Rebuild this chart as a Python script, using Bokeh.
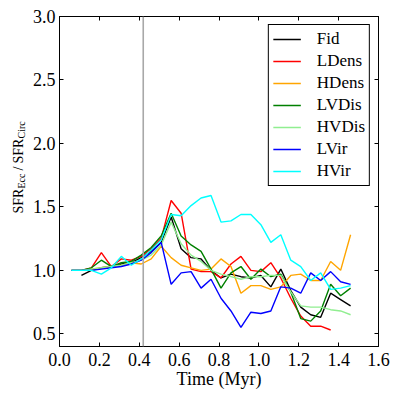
import math
from bokeh.plotting import figure
from bokeh.layouts import row
from bokeh.models import LinearAxis, Span, FixedTicker, PrintfTickFormatter, Range1d
from bokeh.core.properties import value
from bokeh.embed import file_html
from bokeh.resources import INLINE

nan = float("nan")

# ---------------- data ----------------
time_myr = [0.06, 0.11, 0.16, 0.21, 0.26, 0.31, 0.36, 0.41, 0.46, 0.51,
            0.56, 0.61, 0.66, 0.71, 0.76, 0.81, 0.86, 0.91, 0.96, 1.01,
            1.06, 1.11, 1.16, 1.21, 1.26, 1.31, 1.36, 1.41, 1.46]

fid = [nan, 0.96, 1.00, 1.02, 1.03, 1.05, 1.06, 1.10, 1.15, 1.22,
       1.42, 1.17, 1.10, 1.09, 1.00, 0.94, 0.97, 0.95, 0.94, 0.96,
       0.87, 1.01, 0.84, 0.71, 0.65, 0.63, 0.82, 0.77, 0.72]
ldens = [1.00, 1.00, 1.02, 1.14, 1.03, 1.09, 1.08, 1.11, 1.17, 1.25,
         1.55, 1.45, 1.01, 0.99, 0.99, 0.94, 1.05, 1.11, 1.00, 0.99,
         1.06, 0.94, 0.78, 0.64, 0.56, 0.56, 0.53, nan, nan]
hdens = [1.00, 1.00, 1.01, 1.02, 1.03, 1.04, 1.06, 1.05, 1.09, 1.19,
         1.10, 1.04, 1.02, 1.00, 1.01, 1.09, 1.03, 0.82, 0.88, 0.88,
         0.85, 0.87, 0.96, 0.97, 0.92, 0.92, 1.07, 1.00, 1.28]
lvdis = [1.00, 1.00, 1.02, 1.08, 1.03, 1.06, 1.07, 1.12, 1.18, 1.27,
         1.45, 1.27, 1.20, 1.15, 1.01, 0.86, 0.98, 1.03, 0.93, 1.01,
         0.95, 0.97, 0.83, 0.62, 0.60, 0.68, 0.89, 0.80, 0.86]
hvdis = [1.00, 1.00, 1.01, 1.02, 1.03, 1.04, 1.06, 1.08, 1.12, 1.20,
         1.38, 1.21, 1.12, 1.07, 1.00, 0.97, 0.95, 0.93, 0.95, 0.95,
         0.96, 0.96, 0.83, 0.72, 0.71, 0.71, 0.69, 0.68, 0.65]
lvir = [1.00, 1.00, 1.00, 1.01, 1.02, 1.03, 1.05, 1.08, 1.14, 1.22,
        0.89, 0.98, 0.99, 0.86, 0.93, 0.78, 0.68, 0.55, 0.67, 0.66,
        0.68, 0.87, 0.86, 0.82, 0.98, 0.92, 0.99, 0.91, 0.89]
hvir = [1.00, 1.00, 1.00, 0.97, 1.02, 1.11, 1.04, 1.09, 1.16, 1.24,
        1.44, 1.43, 1.51, 1.57, 1.59, 1.38, 1.39, 1.44, 1.44, 1.36,
        1.22, 1.28, 1.08, 1.03, 0.92, 0.98, 0.85, 0.86, 0.88]

series_names = ["Fid", "LDens", "HDens", "LVDis", "HVDis", "LVir", "HVir"]
series_values = [fid, ldens, hdens, lvdis, hvdis, lvir, hvir]
series_colors = ["#000000", "#ff0000", "#ffa500", "#008000", "#90ee90", "#0000ff", "#00ffff"]

x_ticks = [0.0, 0.2, 0.4, 0.6, 0.8, 1.0, 1.2, 1.4, 1.6]
y_ticks = [0.5, 1.0, 1.5, 2.0, 2.5, 3.0]
t_marker = 0.42

x_title = "Time (Myr)"
y_title_text = ["SFR", "Ecc", "/", "SFR", "Circ"]
y_title_is_sub = [False, True, False, False, True]

# ---------------- layout ----------------
FONT = "Liberation Serif"
FRAME_W, FRAME_H = 319, 330
TITLE_W = 26
BL, BT = 59, 16
X0, X1 = 0.0, 1.6
Y0, Y1 = 0.4, 3.0

p = figure(x_range=(X0, X1), y_range=(Y0, Y1),
           frame_width=FRAME_W, frame_height=FRAME_H,
           x_axis_location=None, y_axis_location=None,
           min_border_left=BL - TITLE_W, min_border_right=12, min_border_top=BT, min_border_bottom=40,
           output_backend="svg", toolbar_location=None)
p.xgrid.visible = False
p.ygrid.visible = False
p.outline_line_color = "black"
p.outline_line_width = 1
p.background_fill_color = "white"
p.border_fill_color = "white"

ax_bottom = LinearAxis(ticker=FixedTicker(ticks=x_ticks))
ax_top = LinearAxis(ticker=FixedTicker(ticks=x_ticks))
ax_left = LinearAxis(ticker=FixedTicker(ticks=y_ticks))
ax_right = LinearAxis(ticker=FixedTicker(ticks=y_ticks))

for ax in (ax_bottom, ax_top, ax_left, ax_right):
    ax.major_tick_in = 4
    ax.major_tick_out = 0
    ax.minor_tick_in = 0
    ax.minor_tick_out = 0
    ax.axis_line_color = "black"
    ax.major_tick_line_color = "black"
    ax.major_label_text_font = FONT
    ax.major_label_text_font_size = "18px"
    ax.major_label_text_color = "black"
    ax.formatter = PrintfTickFormatter(format="%.1f")

ax_bottom.major_label_standoff = 6
ax_left.major_label_standoff = 4
ax_bottom.axis_label = x_title
ax_bottom.axis_label_text_font = FONT
ax_bottom.axis_label_text_font_size = "18px"
ax_bottom.axis_label_text_font_style = "normal"
ax_bottom.axis_label_text_color = "black"
ax_bottom.axis_label_standoff = 0

# top and right axes: ticks only, no labels painted
for ax in (ax_top, ax_right):
    ax.major_label_text_color = None
    ax.major_label_text_font_size = "1px"
    ax.major_label_standoff = 0

p.add_layout(ax_bottom, "below")
p.add_layout(ax_left, "left")
p.add_layout(ax_top, "above")
p.add_layout(ax_right, "right")

p.add_layout(Span(location=t_marker, dimension="height", line_color="#a8a8a8", line_width=1.6))

for name, vals, col in zip(series_names, series_values, series_colors):
    p.line(time_myr, vals, line_color=col, line_width=1.4, legend_label=name)

lg = p.legend[0]
lg.location = "top_right"
lg.margin = 8
lg.padding = 4
lg.spacing = 2
lg.label_height = 20
lg.glyph_height = 20
lg.glyph_width = 28
lg.label_standoff = 16
lg.label_text_font = FONT
lg.label_text_font_size = "17px"
lg.label_text_color = "black"
lg.border_line_color = "black"
lg.border_line_width = 1
lg.border_line_alpha = 1.0
lg.background_fill_alpha = 1.0

# ---------------- rotated y title with subscripts, in a narrow side panel ----------------
# the panel shares the main plot's vertical scale (same frame height and top border)
t = figure(frame_width=TITLE_W, frame_height=FRAME_H, title=None,
           x_range=Range1d(0, TITLE_W), y_range=p.y_range,
           x_axis_location=None, y_axis_location=None,
           min_border_left=0, min_border_right=0, min_border_top=BT, min_border_bottom=0,
           output_backend="svg", toolbar_location=None)
t.xgrid.visible = False
t.ygrid.visible = False
t.outline_line_color = None
t.background_fill_color = "white"
t.border_fill_color = "white"


def py_to_y(py):
    return Y1 - (py - BT) / FRAME_H * (Y1 - Y0)


starts_px = [213, 188, 170, 163, 138]  # page px where each piece begins (its lower end)
for txt, sub, start in zip(y_title_text, y_title_is_sub, starts_px):
    t.text(x=[20.6 if sub else 18.3], y=[py_to_y(start)], text=[txt], angle=math.pi / 2,
           text_align="left", text_baseline="alphabetic",
           text_font=value(FONT), text_font_size=value("10px" if sub else "14px"),
           text_color="black")

layout = row(t, p, spacing=0)
open("out.html", "w").write(file_html(layout, INLINE))
